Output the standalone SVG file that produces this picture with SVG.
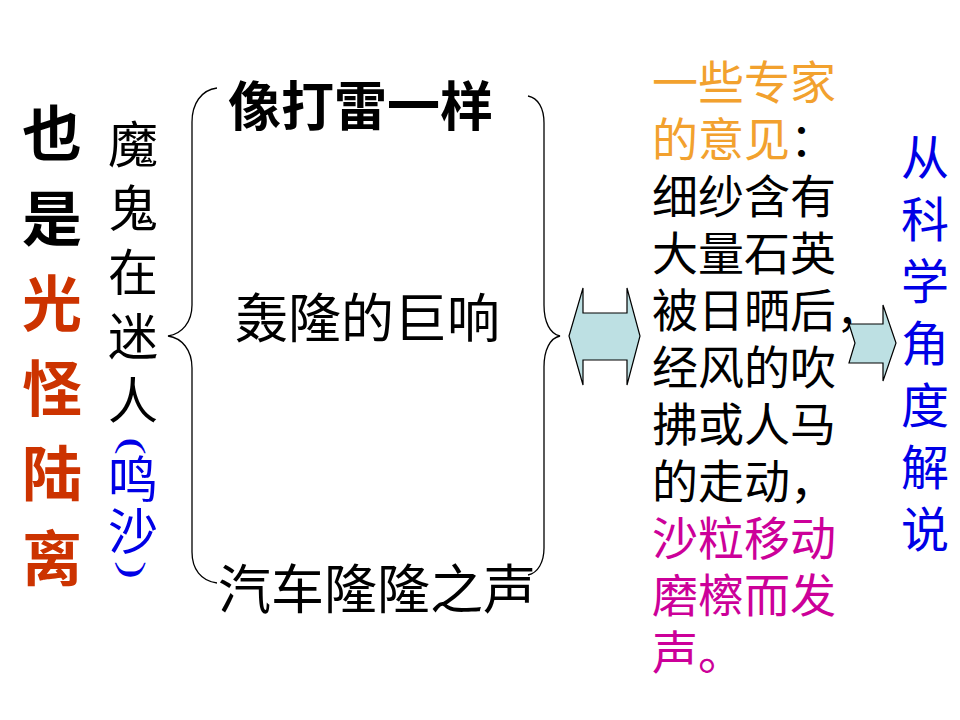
<svg xmlns="http://www.w3.org/2000/svg" width="960" height="720" viewBox="0 0 960 720">
<style>
text{font-family:"Liberation Serif","Noto Sans CJK SC",serif;}
.big{font-size:60px;font-weight:bold;text-anchor:middle;}
.col2{font-size:50px;text-anchor:middle;}
.paren{font-family:"Liberation Serif",serif;font-size:34px;text-anchor:middle;fill:#0000E6;}
.h{font-size:53px;fill:#000;}
.r{font-size:46px;fill:#000;}
.sci{font-size:48px;fill:#0000E6;text-anchor:middle;}
.red{fill:#CC3300;}
.blue{fill:#0000E6;}
.org{fill:#F2A12E;}
.mag{fill:#CC0099;}
.brace{fill:none;stroke:#000;stroke-width:1.3;}
.arrow{fill:#BDE0E3;stroke:#000;stroke-width:1.2;stroke-linejoin:miter;}
</style>
<rect width="960" height="720" fill="#fff"/>
<g id="title-col">
<text class="big" x="52" y="156">也</text>
<text class="big" x="52" y="241">是</text>
<text class="big red" x="52" y="326">光</text>
<text class="big red" x="52" y="411">怪</text>
<text class="big red" x="52" y="496">陆</text>
<text class="big red" x="52" y="581">离</text>
</g>
<g id="devil-col">
<text class="col2" x="133" y="163">魔</text>
<text class="col2" x="133" y="227">鬼</text>
<text class="col2" x="133" y="291">在</text>
<text class="col2" x="133" y="355">迷</text>
<text class="col2" x="133" y="419">人</text>
<g transform="translate(133,446) rotate(90)"><text class="paren" x="0" y="0" transform="scale(1.6,1)" dy="11">(</text></g>
<text class="col2 blue" x="133" y="498">鸣</text>
<text class="col2 blue" x="133" y="550">沙</text>
<g transform="translate(133,570) rotate(90)"><text class="paren" x="0" y="0" transform="scale(1.6,1)" dy="11">)</text></g>
</g>
<g id="sound-1"><text class="h" x="228" y="126" font-weight="bold">像打雷一样</text></g>
<g id="sound-2"><text class="h" x="235" y="338">轰隆的巨响</text></g>
<g id="sound-3"><text class="h" x="218" y="609">汽车隆隆之声</text></g>
<g id="expert">
<text class="r" x="652" y="99"><tspan class="org">一些专家</tspan></text>
<text class="r" x="652" y="156"><tspan class="org">的意见</tspan>：</text>
<text class="r" x="652" y="213">细纱含有</text>
<text class="r" x="652" y="270">大量石英</text>
<text class="r" x="652" y="327">被日晒后，</text>
<text class="r" x="652" y="384">经风的吹</text>
<text class="r" x="652" y="441">拂或人马</text>
<text class="r" x="652" y="498">的走动，</text>
<text class="r mag" x="652" y="555">沙粒移动</text>
<text class="r mag" x="652" y="612">磨檫而发</text>
<text class="r mag" x="652" y="669">声。</text>
</g>
<g id="science">
<text class="sci" x="925" y="175">从</text>
<text class="sci" x="925" y="237">科</text>
<text class="sci" x="925" y="299">学</text>
<text class="sci" x="925" y="361">角</text>
<text class="sci" x="925" y="423">度</text>
<text class="sci" x="925" y="485">解</text>
<text class="sci" x="925" y="547">说</text>
</g>
<g id="connectors">
<path class="brace" d="M217,88 C201,90 192,104 192,122 L192,305 C192,322 182,334 168,336 C182,338 192,350 192,368 L192,552 C192,569 201,581 217,583"/>
<path class="brace" d="M528,96 C538,98 544,108 544,123 L544,305 C544,322 550,334 560,336 C550,338 544,350 544,367 L544,548 C544,562 538,573 528,575"/>
<polygon class="arrow" points="569,336 583,288 583,313 627,313 627,288 640,336 627,385 627,360 583,360 583,385"/>
<polygon class="arrow" points="849,324 883,324 883,305 896,343 883,381 883,363 849,363 855,343"/>
</g>
</svg>
